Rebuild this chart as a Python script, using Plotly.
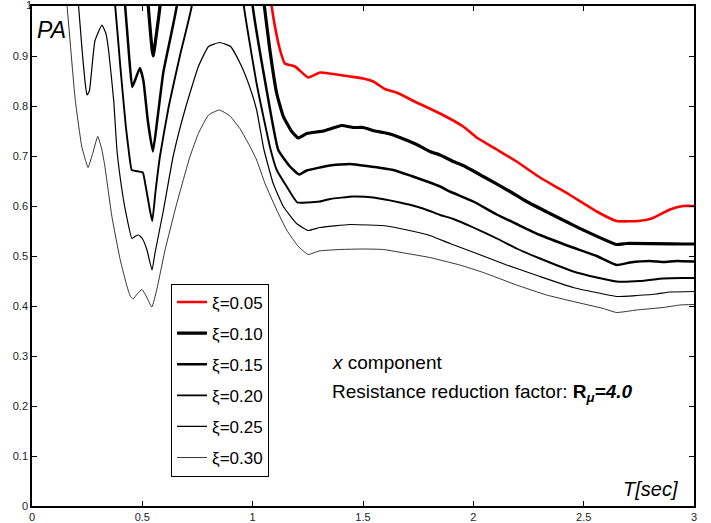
import plotly.graph_objects as go

# ---------------- data ----------------
names = ["ξ=0.05", "ξ=0.10", "ξ=0.15", "ξ=0.20", "ξ=0.25", "ξ=0.30"]

x005 = [1.00, 1.086, 1.101, 1.124, 1.146, 1.192, 1.252, 1.305, 1.365, 1.441, 1.501, 1.547, 1.599,
        1.652, 1.743, 1.849, 1.954, 2.015, 2.106, 2.196, 2.302, 2.438, 2.559, 2.649, 2.747, 2.808,
        2.891, 2.951, 3.0]
y005 = [1.30, 1.000, 0.959, 0.912, 0.885, 0.879, 0.857, 0.867, 0.864, 0.859, 0.855, 0.849, 0.834,
        0.827, 0.807, 0.785, 0.759, 0.737, 0.713, 0.689, 0.657, 0.622, 0.589, 0.570, 0.570, 0.575,
        0.593, 0.600, 0.600]

x010 = [0.50, 0.527, 0.545, 0.550, 0.558, 0.580, 0.62, 0.98, 1.053, 1.078, 1.109, 1.139, 1.177,
        1.207, 1.245, 1.320, 1.403, 1.456, 1.501, 1.554, 1.592, 1.637, 1.743, 1.803, 1.849, 1.909,
        1.954, 2.045, 2.166, 2.241, 2.347, 2.438, 2.498, 2.649, 2.694, 2.951, 3.0]
y010 = [1.30, 1.000, 0.910, 0.900, 0.925, 1.000, 1.30, 1.30, 1.000, 0.912, 0.825, 0.779, 0.749,
        0.736, 0.745, 0.750, 0.761, 0.757, 0.757, 0.750, 0.747, 0.742, 0.723, 0.709, 0.702, 0.689,
        0.681, 0.659, 0.629, 0.609, 0.585, 0.565, 0.552, 0.523, 0.525, 0.524, 0.524]

x015 = [0.35, 0.422, 0.440, 0.454, 0.470, 0.489, 0.505, 0.525, 0.548, 0.570, 0.595, 0.656, 0.72,
        0.93, 1.000, 1.060, 1.116, 1.169, 1.211, 1.245, 1.350, 1.441, 1.517, 1.637, 1.720, 1.803,
        1.849, 1.894, 2.000, 2.106, 2.196, 2.302, 2.438, 2.559, 2.649, 2.710, 2.800, 2.860, 2.920,
        3.0]
y015 = [1.30, 1.000, 0.900, 0.838, 0.855, 0.876, 0.850, 0.770, 0.709, 0.780, 0.867, 1.000, 1.30,
        1.30, 1.000, 0.840, 0.712, 0.679, 0.663, 0.671, 0.681, 0.684, 0.680, 0.672, 0.660, 0.647,
        0.639, 0.629, 0.609, 0.583, 0.564, 0.542, 0.519, 0.500, 0.482, 0.487, 0.490, 0.488, 0.490,
        0.489]

x020 = [0.30, 0.377, 0.400, 0.425, 0.438, 0.452, 0.470, 0.502, 0.515, 0.535, 0.545, 0.560, 0.580,
        0.620, 0.670, 0.724, 0.80, 0.90, 0.960, 1.020, 1.080, 1.109, 1.154, 1.202, 1.250, 1.305,
        1.350, 1.456, 1.547, 1.667, 1.750, 1.803, 1.849, 1.909, 2.000, 2.121, 2.196, 2.302, 2.453,
        2.559, 2.649, 2.755, 2.860, 2.951, 3.0]
y020 = [1.30, 1.000, 0.880, 0.760, 0.712, 0.672, 0.670, 0.667, 0.640, 0.590, 0.570, 0.630, 0.700,
        0.800, 0.900, 1.000, 1.30, 1.30, 1.000, 0.840, 0.715, 0.672, 0.639, 0.607, 0.607, 0.609,
        0.614, 0.619, 0.617, 0.607, 0.598, 0.590, 0.582, 0.574, 0.557, 0.532, 0.515, 0.495, 0.469,
        0.457, 0.449, 0.450, 0.455, 0.456, 0.456]

x025 = [0.15, 0.211, 0.227, 0.240, 0.249, 0.260, 0.285, 0.317, 0.335, 0.347, 0.370, 0.385, 0.405,
        0.423, 0.453, 0.470, 0.483, 0.500, 0.521, 0.544, 0.557, 0.595, 0.640, 0.693, 0.754, 0.800,
        0.850, 0.900, 0.950, 0.985, 1.018, 1.050, 1.093, 1.139, 1.199, 1.252, 1.305, 1.441, 1.607,
        1.700, 1.803, 1.894, 2.015, 2.151, 2.302, 2.453, 2.589, 2.649, 2.740, 2.830, 2.891, 3.0]
y025 = [1.30, 1.000, 0.912, 0.850, 0.822, 0.830, 0.930, 0.962, 0.945, 0.912, 0.812, 0.712, 0.640,
        0.592, 0.535, 0.540, 0.542, 0.535, 0.512, 0.472, 0.505, 0.590, 0.700, 0.792, 0.879, 0.919,
        0.927, 0.919, 0.879, 0.840, 0.792, 0.715, 0.645, 0.599, 0.565, 0.551, 0.557, 0.563, 0.560,
        0.552, 0.541, 0.525, 0.505, 0.482, 0.459, 0.437, 0.424, 0.419, 0.421, 0.424, 0.428, 0.429]

x030 = [0.10, 0.159, 0.196, 0.225, 0.242, 0.254, 0.275, 0.298, 0.317, 0.330, 0.362, 0.400, 0.430,
        0.446, 0.458, 0.478, 0.498, 0.515, 0.543, 0.565, 0.603, 0.656, 0.716, 0.754, 0.800, 0.849,
        0.897, 0.942, 0.988, 1.018, 1.056, 1.109, 1.154, 1.207, 1.252, 1.300, 1.396, 1.500, 1.592,
        1.700, 1.803, 1.849, 1.939, 2.045, 2.196, 2.332, 2.453, 2.589, 2.649, 2.740, 2.860, 2.936,
        3.0]
y030 = [1.30, 1.000, 0.812, 0.720, 0.692, 0.677, 0.705, 0.739, 0.712, 0.680, 0.579, 0.492, 0.440,
        0.419, 0.414, 0.425, 0.433, 0.422, 0.398, 0.432, 0.512, 0.605, 0.699, 0.745, 0.782, 0.792,
        0.780, 0.755, 0.719, 0.692, 0.645, 0.592, 0.552, 0.519, 0.503, 0.510, 0.513, 0.514, 0.513,
        0.505, 0.497, 0.492, 0.482, 0.467, 0.442, 0.422, 0.409, 0.395, 0.387, 0.392, 0.397, 0.402,
        0.403]

xs = [x005, x010, x015, x020, x025, x030]
ys = [y005, y010, y015, y020, y025, y030]
colors = ["#ff0000", "#000000", "#000000", "#000000", "#000000", "#000000"]
widths = [2.6, 3.2, 2.5, 1.9, 1.2, 0.8]

x_ticks = [0, 0.5, 1, 1.5, 2, 2.5, 3]
y_ticks = [0, 0.1, 0.2, 0.3, 0.4, 0.5, 0.6, 0.7, 0.8, 0.9, 1]
y_tick_text = ["0", "0.1", "0.2", "0.3", "0.4", "0.5", "0.6", "0.7", "0.8", "0.9", ""]
y_top_label = "1"
y_top_value = 1.0

FONT = "Liberation Sans, Arial, sans-serif"

fig = go.Figure()
for i in range(len(names)):
    fig.add_trace(go.Scatter(
        x=xs[i], y=ys[i], mode="lines", name=names[i],
        legendgroup=names[i],
        line=dict(color=colors[i], width=widths[i], shape="spline", smoothing=0.4),
    ))

# top y tick label drawn as a text mark placed through the axes (not clipped)
fig.add_trace(go.Scatter(
    x=[0], y=[y_top_value], mode="text", text=[y_top_label],
    textposition="middle left", cliponaxis=False, showlegend=False, hoverinfo="skip",
    textfont=dict(family=FONT, size=11, color="#222222"),
))

axis_common = dict(
    showgrid=False, zeroline=False, showline=True, linecolor="black", linewidth=1.5,
    mirror="ticks", ticks="inside", ticklen=5, tickwidth=1, tickcolor="black",
    tickfont=dict(family=FONT, size=11, color="#222222"), automargin=False,
)

fig.update_layout(
    width=711, height=523,
    margin=dict(l=32, r=17, t=6, b=17, autoexpand=False),
    paper_bgcolor="white", plot_bgcolor="white",
    xaxis=dict(range=[0, 3], tickvals=x_ticks, ticklabelstandoff=0, **axis_common),
    yaxis=dict(range=[0, 1], tickvals=y_ticks, ticktext=y_tick_text,
               ticklabelstandoff=0, **axis_common),
    showlegend=True,
    legend=dict(
        x=0.21, y=0.445, xanchor="left", yanchor="top",
        bordercolor="black", borderwidth=1, bgcolor="white",
        font=dict(family=FONT, size=17, color="black"),
        traceorder="grouped", tracegroupgap=6,
    ),
    annotations=[
        dict(text="<i>PA</i>", x=0.004, y=0.952, xref="paper", yref="paper",
             xanchor="left", yanchor="middle", showarrow=False,
             font=dict(family=FONT, size=23, color="black")),
        dict(text="<i>x</i> component", x=0.45, y=0.288, xref="paper", yref="paper",
             xanchor="left", yanchor="middle", showarrow=False,
             font=dict(family=FONT, size=19, color="black")),
        dict(text="Resistance reduction factor: <b>R</b><sub><b><i>μ</i></b></sub><b><i>=4.0</i></b>",
             x=0.45, y=0.226, xref="paper", yref="paper",
             xanchor="left", yanchor="middle", showarrow=False,
             font=dict(family=FONT, size=19, color="black")),
        dict(text="<i>T[sec]</i>", x=0.979, y=0.034, xref="paper", yref="paper",
             xanchor="right", yanchor="middle", showarrow=False,
             font=dict(family=FONT, size=20, color="black")),
    ],
)

fig.write_html("out.html")
